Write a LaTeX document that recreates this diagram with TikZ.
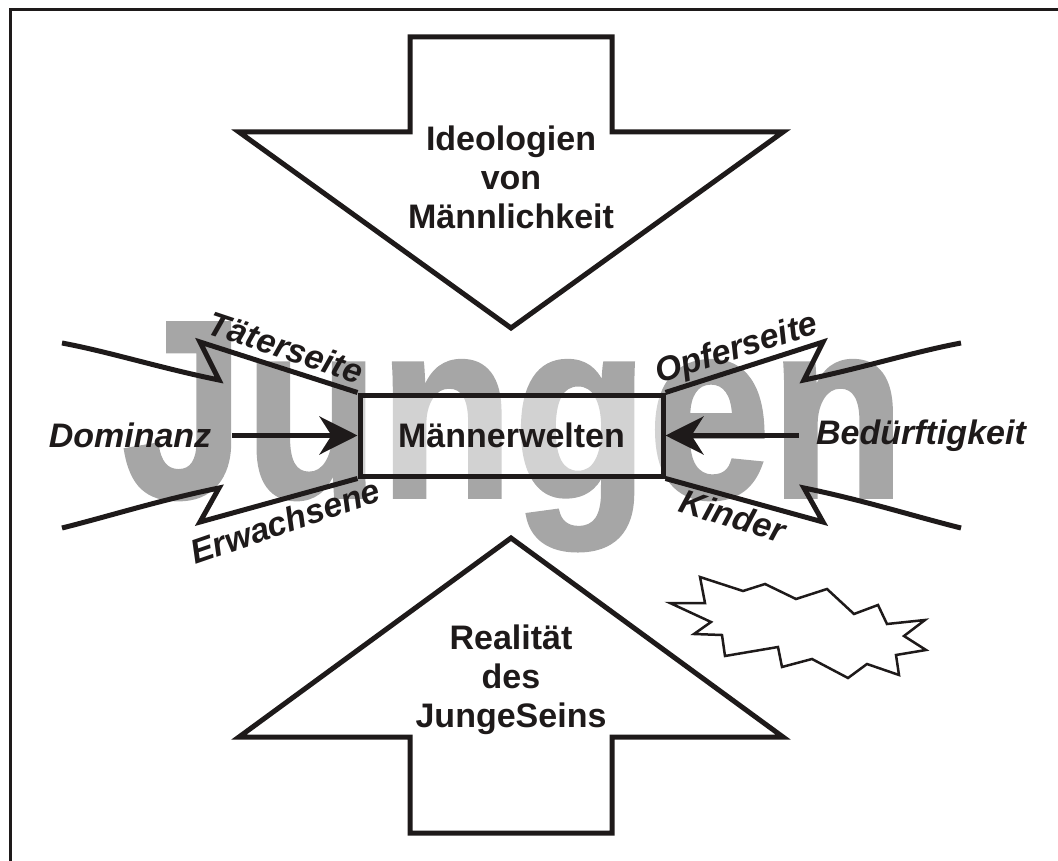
\documentclass[tikz,border=0pt]{standalone}
\usepackage{fontspec}
\usepackage{graphicx}
\setmainfont{Liberation Sans}
\newfontface\grossfont[FakeBold=1.5]{Liberation Sans Bold}
\usetikzlibrary{arrows.meta}
\definecolor{jgrau}{RGB}{166,166,166}
\definecolor{tinte}{RGB}{30,26,26}
\tikzset{
  linie/.style={line width=5pt,draw=tinte},
  lbl/.style={font=\fontsize{34}{39}\selectfont\bfseries\itshape,text=tinte,inner sep=0pt},
  txt/.style={font=\fontsize{34}{39}\selectfont\bfseries,text=tinte,align=center,inner sep=0pt},
  pfeil/.style={linie,-{Stealth[length=38pt,width=38pt,inset=12pt]}}
}
\begin{document}
\begin{tikzpicture}[x=1pt,y=-1pt,line join=miter]
\useasboundingbox (0,0) rectangle (1058,861);
%frame
\draw[line width=3pt,draw=tinte] (10,10) rectangle (1080,880);
%background word
\node[anchor=base west,inner sep=0pt,text=jgrau,font=\fontsize{253}{253}\selectfont\grossfont] (jungen) at (122,497) {\scalebox{0.87}[1]{Jungen}};
%box
\node[linie,fill=white,fill opacity=0.5,text opacity=1,minimum width=303pt,minimum height=81pt,txt] (welt) at (511.5,435.5) {Männerwelten};
%left funnel
\draw[linie] (welt.north west)--(200,342)--(219,380) .. controls (160,368) and (110,352) .. (62,343);
\draw[linie] (welt.south west)--(200,522)--(219,488) .. controls (160,500) and (110,516) .. (62,528);
%right funnel
\draw[linie] (welt.north east)--(823,342)--(804,380) .. controls (863,368) and (913,352) .. (961,343);
\draw[linie] (welt.south east)--(823,522)--(804,488) .. controls (863,500) and (913,516) .. (961,528);
%labels
\node[lbl,rotate=-18.5] (taeter) at (286,347) {Täterseite};
\node[lbl,rotate=19] (erw) at (285,521) {Erwachsene};
\node[lbl,rotate=17.5] (opfer) at (737,350) {Opferseite};
\node[lbl,rotate=-17] (kind) at (733,516) {Kinder};
\node[lbl] (dom) at (130,435.5) {Dominanz};
\node[lbl] (bed) at (921,435.5) {Bedürftigkeit};
%arrows
\draw[pfeil,shorten <=21pt] (dom.east)--(welt.west);
\draw[pfeil,shorten <=17pt] (bed.west)--(welt.east);
%top arrow
\draw[linie,fill=white] (410,37)--(612,37)--(612,132)--(783,132)--(511,328)--(239,132)--(410,132)--cycle;
\node[txt] (ideo) at (511,177) {Ideologien\\von\\Männlichkeit};
%bottom arrow
\draw[linie,fill=white] (410,833)--(612,833)--(612,737)--(783,737)--(511,538)--(239,737)--(410,737)--cycle;
\node[txt] (real) at (511,680) {Realität\\des\\JungeSeins};
%star
\draw[line width=2.5pt,draw=tinte,fill=white] (670,603)--(705,603)--(700,577)--(743,591)--(765,584)--(796,599)--(827,589)--(854,614)--(878,605)--(887,624)--(925,620)--(904,636)--(926,650)--(896,655)--(899,675)--(867,664)--(848,678)--(812,659)--(782,667)--(778,647)--(725,656)--(722,635)--(694,634)--(711,622)--cycle;
\end{tikzpicture}
\end{document}
